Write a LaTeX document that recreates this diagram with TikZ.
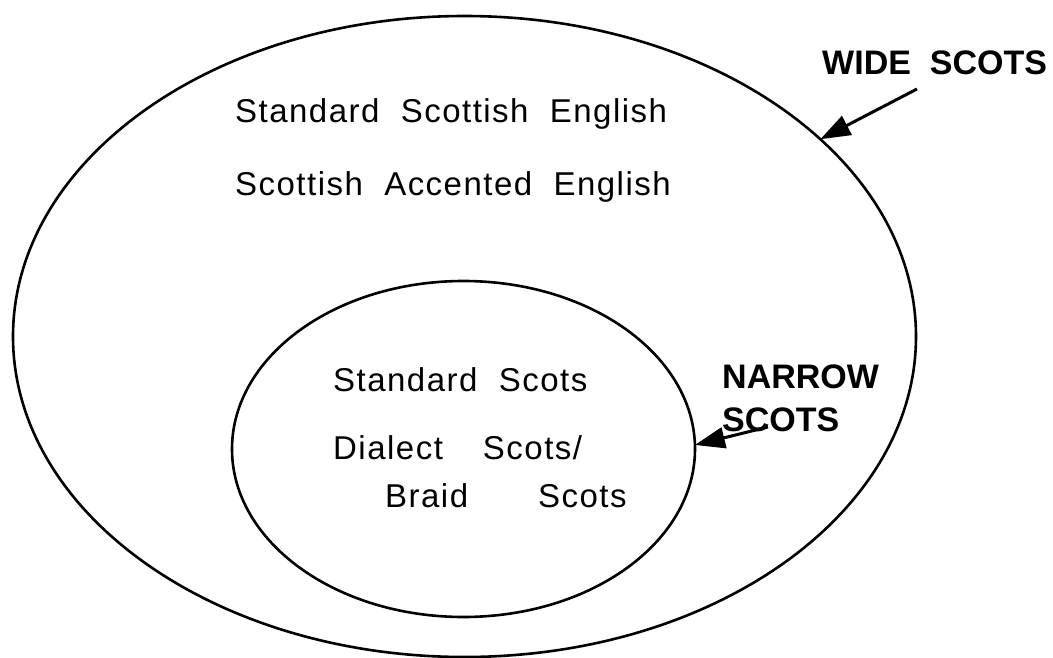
\documentclass[tikz,border=0pt]{standalone}
\usepackage{fontspec}
\setmainfont{Liberation Sans}
\usetikzlibrary{shapes.geometric,arrows.meta}
\begin{document}
\begin{tikzpicture}[x=1pt,y=-1pt,
  ring/.style={ellipse,draw,line width=2.6pt,inner sep=0pt,outer sep=0pt},
  plain/.style={anchor=base west,inner sep=0pt,
    font=\fontsize{33}{40}\selectfont\addfontfeature{LetterSpace=4.5}},
  tag/.style={anchor=base west,inner sep=0pt,align=left,
    font=\fontsize{34}{43}\selectfont\bfseries},
  pointer/.style={line width=3pt,-{Triangle[length=30pt,width=21pt]}}]
\useasboundingbox (0,0) rectangle (1053,658);
% the two nested circles of the scheme
\node[ring,minimum width=903pt,minimum height=641pt] (outer) at (464.5,336.5) {};
\node[ring,minimum width=463pt,minimum height=336pt] (inner) at (463.5,449) {};
% varieties in the wide sense
\node[plain] (sse) at (235,123) {Standard\ \ Scottish\ \ English};
\node[plain] (sae) at (235,196) {Scottish\ \ Accented\ \ English};
% varieties in the narrow sense
\node[plain] (ss) at (333,391) {Standard\ \ Scots};
\node[plain] (ds) at (333,459) {Dialect\hspace{40pt}Scots/};
\node[plain] (bs) at (385,507) {Braid\hspace{70pt}Scots};
% labels and pointers
\node[tag] (wide) at (822,75) {WIDE\ \ SCOTS};
\node[tag] (narrow) at (722,431) {NARROW\\SCOTS};
\coordinate (wtail) at (917,89);
\coordinate (ntail) at (768,427);
\draw[pointer] (wtail) -- (outer.29.4);
\draw[pointer] (ntail) -- (inner.1);
\end{tikzpicture}
\end{document}
